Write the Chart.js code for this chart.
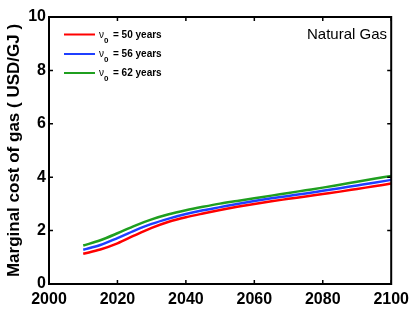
<!DOCTYPE html>
<html>
<head>
<meta charset="utf-8">
<script src="https://cdn.jsdelivr.net/npm/chart.js@4.4.0/dist/chart.umd.min.js"></script>
<style>
  html, body { margin: 0; padding: 0; background: #fff; }
  #wrap { width: 415px; height: 321px; }
</style>
</head>
<body>
<div id="wrap"><canvas id="gasChart" width="415" height="321"></canvas></div>
<script>
// marginal cost of natural gas
var years = [2010, 2015, 2020, 2025, 2030, 2035, 2040, 2045, 2050, 2055, 2060, 2065, 2070, 2075, 2080, 2085, 2090, 2095, 2100];
var cost50 = [1.13, 1.29, 1.52, 1.82, 2.10, 2.33, 2.50, 2.64, 2.77, 2.89, 3.00, 3.10, 3.19, 3.28, 3.37, 3.46, 3.56, 3.66, 3.76];
var cost56 = [1.28, 1.46, 1.72, 2.00, 2.25, 2.45, 2.62, 2.76, 2.88, 3.00, 3.11, 3.21, 3.30, 3.39, 3.49, 3.59, 3.69, 3.79, 3.90];
var cost62 = [1.44, 1.64, 1.90, 2.18, 2.42, 2.61, 2.76, 2.89, 3.01, 3.11, 3.21, 3.31, 3.41, 3.51, 3.61, 3.72, 3.83, 3.94, 4.05];
var seriesNames = ['50', '56', '62'];
var seriesColors = ['#ff0000', '#1f3fff', '#1f9f1f'];
var xTicks = [2000, 2020, 2040, 2060, 2080, 2100];
var yTicks = [0, 2, 4, 6, 8, 10];

var FONT = '"Liberation Sans", Arial, Helvetica, sans-serif';

function pts(vals) {
    return years.map(function(y, i) { return { x: y, y: vals[i] }; });
}

// box, inward ticks, legend and label
var framePlugin = {
    id: 'frame',
    afterDraw: function(chart) {
        var ctx = chart.ctx;
        var a = chart.chartArea;
        var xs = chart.scales.x, ys = chart.scales.y;
        ctx.save();
        ctx.strokeStyle = '#000';
        ctx.lineWidth = 2;
        ctx.strokeRect(a.left, a.top, a.right - a.left, a.bottom - a.top);
        ctx.lineWidth = 1.5;
        ctx.beginPath();
        xTicks.forEach(function(t) {
            var px = xs.getPixelForValue(t);
            ctx.moveTo(px, a.bottom); ctx.lineTo(px, a.bottom - 4);
            ctx.moveTo(px, a.top); ctx.lineTo(px, a.top + 4);
        });
        yTicks.forEach(function(t) {
            var py = ys.getPixelForValue(t);
            ctx.moveTo(a.left, py); ctx.lineTo(a.left + 4, py);
            ctx.moveTo(a.right, py); ctx.lineTo(a.right - 4, py);
        });
        ctx.stroke();

        // legend
        var ly = [34.5, 54, 73];
        for (var i = 0; i < 3; i++) {
            ctx.strokeStyle = seriesColors[i];
            ctx.lineWidth = 2;
            ctx.beginPath();
            ctx.moveTo(64, ly[i]); ctx.lineTo(95, ly[i]);
            ctx.stroke();
            ctx.fillStyle = '#000';
            ctx.textBaseline = 'alphabetic';
            ctx.textAlign = 'left';
            ctx.font = '10px ' + FONT;
            ctx.fillText('\u03bd', 99, ly[i] + 3);
            ctx.font = 'bold 8px ' + FONT;
            ctx.fillText('0', 104, ly[i] + 8);
            ctx.font = 'bold 10px ' + FONT;
            ctx.fillText('= ' + seriesNames[i] + ' years', 113, ly[i] + 3);
        }

        ctx.font = '15px ' + FONT;
        ctx.textAlign = 'right';
        ctx.fillStyle = '#000';
        ctx.fillText('Natural Gas', 387, 39);
        ctx.restore();
    }
};

var datasets = [cost50, cost56, cost62].map(function(vals, i) {
    return {
        data: pts(vals),
        borderColor: seriesColors[i],
        borderWidth: 2.5,
        pointRadius: 0,
        fill: false,
        cubicInterpolationMode: 'monotone'
    };
});

new Chart(document.getElementById('gasChart').getContext('2d'), {
    type: 'line',
    data: { datasets: datasets },
    options: {
        responsive: false,
        animation: false,
        layout: { padding: { top: 17, right: 23, left: 4, bottom: 0 } },
        plugins: { legend: false, tooltip: { enabled: false } },
        scales: {
            x: {
                type: 'linear',
                min: 2000,
                max: 2100,
                afterBuildTicks: function(scale) {
                    scale.ticks = xTicks.map(function(v) { return { value: v }; });
                },
                afterFit: function(scale) { scale.height = 37; },
                ticks: {
                    color: '#000',
                    font: { family: FONT, size: 16, weight: 'bold' },
                    padding: 6,
                    maxRotation: 0,
                    callback: function(v) { return v; }
                },
                grid: { display: false, drawTicks: false },
                border: { display: false }
            },
            y: {
                min: 0,
                max: 10,
                afterBuildTicks: function(scale) {
                    scale.ticks = yTicks.map(function(v) { return { value: v }; });
                },
                afterFit: function(scale) { scale.width = 45; },
                ticks: {
                    color: '#000',
                    font: { family: FONT, size: 16, weight: 'bold' },
                    padding: 3
                },
                title: {
                    display: true,
                    text: 'Marginal cost of gas ( USD/GJ )',
                    color: '#000',
                    font: { family: FONT, size: 17, weight: 'bold' },
                    padding: 0
                },
                grid: { display: false, drawTicks: false },
                border: { display: false }
            }
        }
    },
    plugins: [framePlugin]
});
</script>
</body>
</html>
